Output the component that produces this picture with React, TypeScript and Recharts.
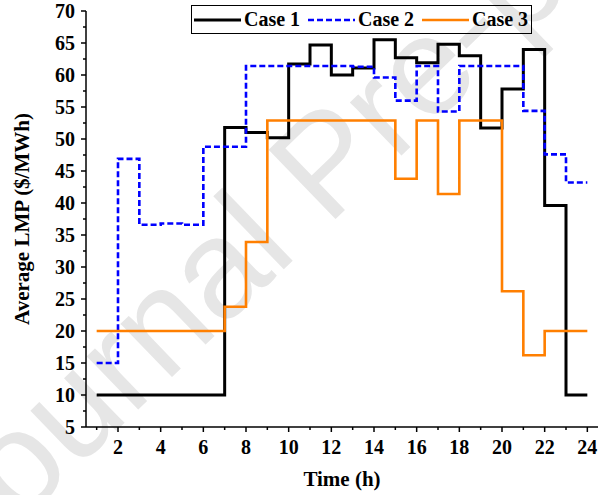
import React from 'react';
import { LineChart, Line, XAxis, YAxis, Legend } from 'recharts';

// hourly average LMP
const hours = [1, 2, 3, 4, 5, 6, 7, 8, 9, 10, 11, 12, 13, 14, 15, 16, 17, 18, 19, 20, 21, 22, 23, 24];
const case1 = [10, 10, 10, 10, 10, 10, 51.8, 51, 50.2, 61.7, 64.7, 60, 61.1, 65.5, 62.7, 61.9, 64.8, 63, 51.7, 57.8, 64, 39.6, 10, 10];
const case2 = [15, 46.9, 36.6, 36.8, 36.6, 48.8, 48.8, 61.4, 61.4, 61.4, 61.4, 61.4, 61.3, 59.6, 56, 61.4, 54.3, 61.4, 61.4, 61.4, 54.4, 47.6, 43.2, 43.2];
const case3 = [20, 20, 20, 20, 20, 20, 23.8, 33.9, 52.9, 52.9, 52.9, 52.9, 52.9, 52.9, 43.8, 52.9, 41.4, 52.9, 52.9, 26.2, 16.2, 20, 20, 20];

const xTicks = hours;
const yTicks = [5, 7.5, 10, 12.5, 15, 17.5, 20, 22.5, 25, 27.5, 30, 32.5, 35, 37.5, 40, 42.5, 45, 47.5, 50, 52.5, 55, 57.5, 60, 62.5, 65, 67.5, 70];

const series = [
  { key: 'case1', name: 'Case 1', color: '#000000', width: 3, dash: undefined },
  { key: 'case2', name: 'Case 2', color: '#0000ff', width: 2.6, dash: '6 3' },
  { key: 'case3', name: 'Case 3', color: '#ff7f00', width: 2.6, dash: undefined },
];

const data = hours.map((h, i) => ({ hour: h, case1: case1[i], case2: case2[i], case3: case3[i] }));

const serif = "'Liberation Serif', 'Times New Roman', serif";

const XTick = (props: any) => {
  const { x, y, payload } = props;
  const major = payload.value % 2 === 0;
  return (
    <g>
      <line x1={x} x2={x} y1={y} y2={y + (major ? 5 : 3)} stroke="#000" strokeWidth={1.5} />
      {major && (
        <text x={x} y={y + 27} textAnchor="middle" fontSize={20} fontWeight="bold" fontFamily={serif} fill="#000">
          {payload.value}
        </text>
      )}
    </g>
  );
};

const YTick = (props: any) => {
  const { x, y, payload } = props;
  const major = payload.value % 5 === 0;
  return (
    <g>
      <line x1={x} x2={x - (major ? 5 : 3)} y1={y} y2={y} stroke="#000" strokeWidth={1.5} />
      {major && (
        <text x={x - 11} y={y + 7} textAnchor="end" fontSize={20} fontWeight="bold" fontFamily={serif} fill="#000">
          {payload.value}
        </text>
      )}
    </g>
  );
};

const LegendBox = () => (
  <div
    style={{
      border: '1px solid #000',
      height: 27,
      width: 338,
      display: 'flex',
      alignItems: 'center',
      paddingLeft: 1,
      boxSizing: 'content-box',
      fontFamily: serif,
      fontWeight: 'bold',
      fontSize: 20,
      lineHeight: '27px',
    }}
  >
    {series.map((s, i) => (
      <div key={s.key} style={{ display: 'flex', alignItems: 'center', marginLeft: i === 0 ? 1 : 8 }}>
        <svg width={47} height={10}>
          <line x1={0} x2={47} y1={5} y2={5} stroke={s.color} strokeWidth={s.width} strokeDasharray={s.dash} />
        </svg>
        <span style={{ marginLeft: 3, width: 56, whiteSpace: 'nowrap' }}>{s.name}</span>
      </div>
    ))}
  </div>
);

export default function App() {
  return (
    <div style={{ position: 'absolute', left: 0, top: 0, width: 598, height: 495, background: '#fff' }}>
      {/* journal watermark */}
      <svg width={598} height={495} style={{ position: 'absolute', left: 0, top: 0 }}>
        <text
          x={-31}
          y={573}
          transform="rotate(-44 -31 573)"
          fontSize={140}
          fontFamily="'Liberation Sans', Arial, sans-serif"
          fill="#e6e6e6"
        >
          Journal Pre-proof
        </text>
      </svg>
      <div style={{ position: 'absolute', left: 0, top: 0 }}>
        <LineChart width={598} height={495} data={data} margin={{ top: 11, right: 0, left: 0, bottom: 0 }}>
          <XAxis
            dataKey="hour"
            type="number"
            domain={[0.5, 24.5]}
            ticks={xTicks}
            interval={0}
            height={68}
            tickSize={0}
            tickMargin={0}
            tickLine={false}
            axisLine={{ stroke: '#000', strokeWidth: 1.5 }}
            tick={<XTick />}
            label={{
              value: 'Time (h)',
              position: 'insideBottom',
              offset: 9,
              style: { fontFamily: serif, fontWeight: 'bold', fontSize: 21, fill: '#000' },
            }}
          />
          <YAxis
            type="number"
            domain={[5, 70]}
            ticks={yTicks}
            interval={0}
            width={86}
            tickSize={0}
            tickMargin={0}
            tickLine={false}
            axisLine={{ stroke: '#000', strokeWidth: 1.5 }}
            tick={<YTick />}
            label={{
              value: 'Average LMP ($/MWh)',
              angle: -90,
              position: 'insideLeft',
              offset: 22,
              style: { textAnchor: 'middle', fontFamily: serif, fontWeight: 'bold', fontSize: 21, fill: '#000' },
            }}
          />
          <Legend
            verticalAlign="middle"
            align="center"
            content={<LegendBox />}
            wrapperStyle={{ top: 5, left: 191, width: 340, height: 29 }}
          />
          {series.map((s) => (
            <Line
              key={s.key}
              dataKey={s.key}
              name={s.name}
              type="stepAfter"
              stroke={s.color}
              strokeWidth={s.width}
              strokeDasharray={s.dash}
              dot={false}
              activeDot={false}
              isAnimationActive={false}
            />
          ))}
        </LineChart>
      </div>
    </div>
  );
}
